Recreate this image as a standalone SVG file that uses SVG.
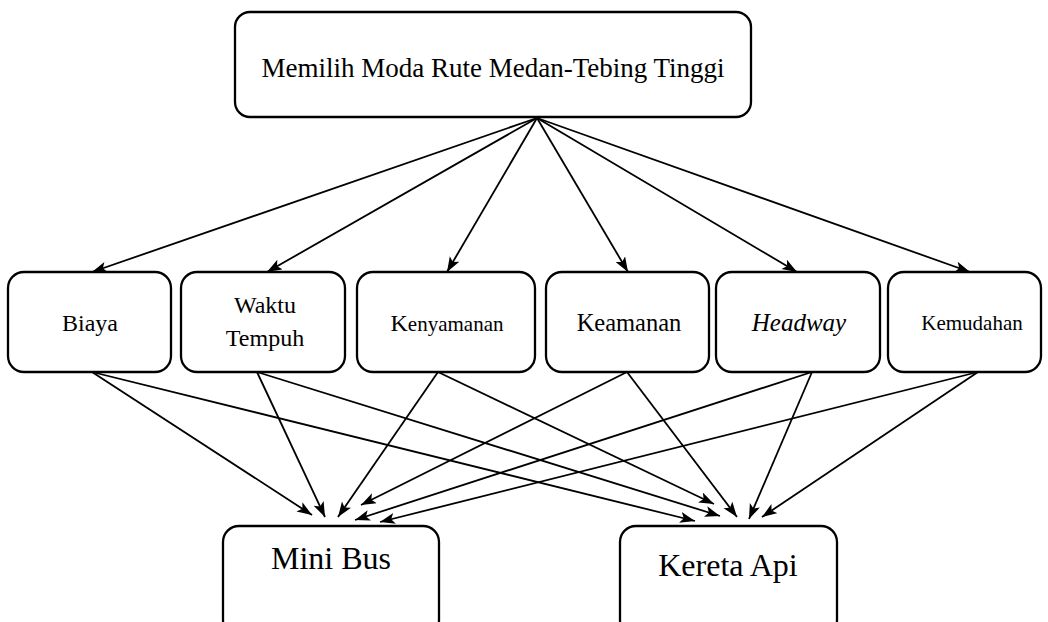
<svg xmlns="http://www.w3.org/2000/svg" width="1048" height="622" viewBox="0 0 1048 622">
  <style>
    .box { fill: #ffffff; stroke: #000000; stroke-width: 2.3; }
    .lbl { fill: #000000; text-anchor: middle; }
    .edge { stroke: #000000; stroke-width: 1.8; fill: none; marker-end: url(#arrow); }
  </style>
  <defs>
    <marker id="arrow" markerUnits="userSpaceOnUse" markerWidth="18" markerHeight="12" refX="15" refY="5.5" orient="auto">
      <path d="M0,0 L15,5.5 L0,11 L3.5,5.5 Z" fill="#000000"/>
    </marker>
  </defs>

  <rect width="1048" height="622" fill="#ffffff"/>

  <g font-family="'Liberation Serif', 'DejaVu Serif', 'Times New Roman', serif">
    <!-- goal -->
    <g id="goal">
      <rect class="box" x="235" y="12" width="516" height="105" rx="15" ry="15"/>
      <text class="lbl" x="493" y="77" font-size="27">Memilih Moda Rute Medan-Tebing Tinggi</text>
    </g>

    <!-- criteria -->
    <g id="biaya">
      <rect class="box" x="8" y="272" width="163" height="100" rx="16" ry="16"/>
      <text class="lbl" x="90" y="331" font-size="24">Biaya</text>
    </g>
    <g id="waktu-tempuh">
      <rect class="box" x="181" y="272" width="164" height="100" rx="16" ry="16"/>
      <text class="lbl" x="265" y="313" font-size="24">Waktu</text>
      <text class="lbl" x="265" y="346" font-size="24">Tempuh</text>
    </g>
    <g id="kenyamanan">
      <rect class="box" x="357" y="272" width="178" height="100" rx="16" ry="16"/>
      <text class="lbl" x="447" y="331" font-size="21"><tspan font-size="24">K</tspan>enyamanan</text>
    </g>
    <g id="keamanan">
      <rect class="box" x="546" y="272" width="163" height="100" rx="16" ry="16"/>
      <text class="lbl" x="629" y="331" font-size="24.5">Keamanan</text>
    </g>
    <g id="headway">
      <rect class="box" x="716" y="272" width="164" height="100" rx="16" ry="16"/>
      <text class="lbl" x="799" y="331" font-size="25" font-style="italic">Headway</text>
    </g>
    <g id="kemudahan">
      <rect class="box" x="888" y="272" width="153" height="100" rx="16" ry="16"/>
      <text class="lbl" x="972" y="330" font-size="21">Kemudahan</text>
    </g>

    <!-- alternatives -->
    <g id="mini-bus">
      <rect class="box" x="223" y="526" width="216" height="110" rx="16" ry="16"/>
      <text class="lbl" x="331" y="569" font-size="32">Mini Bus</text>
    </g>
    <g id="kereta-api">
      <rect class="box" x="620" y="526" width="217" height="110" rx="16" ry="16"/>
      <text class="lbl" x="728" y="576" font-size="32">Kereta Api</text>
    </g>
  </g>

  <!-- connectors -->
  <g id="connectors">
    <!-- goal to criteria -->
    <line class="edge" x1="537" y1="118" x2="92" y2="272"/>
    <line class="edge" x1="537" y1="118" x2="267" y2="272"/>
    <line class="edge" x1="537" y1="118" x2="447" y2="272"/>
    <line class="edge" x1="537" y1="118" x2="628" y2="272"/>
    <line class="edge" x1="537" y1="118" x2="797" y2="272"/>
    <line class="edge" x1="537" y1="118" x2="970" y2="272"/>

    <!-- criteria to Mini Bus -->
    <line class="edge" x1="92" y1="372" x2="312" y2="515"/>
    <line class="edge" x1="257" y1="372" x2="325" y2="517"/>
    <line class="edge" x1="438" y1="372" x2="338" y2="517"/>
    <line class="edge" x1="627" y1="372" x2="361" y2="505"/>
    <line class="edge" x1="812" y1="372" x2="355" y2="520"/>
    <line class="edge" x1="978" y1="372" x2="380" y2="522"/>

    <!-- criteria to Kereta Api -->
    <line class="edge" x1="92" y1="372" x2="695" y2="521"/>
    <line class="edge" x1="257" y1="372" x2="720" y2="516"/>
    <line class="edge" x1="438" y1="372" x2="714" y2="504"/>
    <line class="edge" x1="627" y1="372" x2="737" y2="517"/>
    <line class="edge" x1="812" y1="372" x2="749" y2="519"/>
    <line class="edge" x1="978" y1="372" x2="762" y2="517"/>
  </g>
</svg>
